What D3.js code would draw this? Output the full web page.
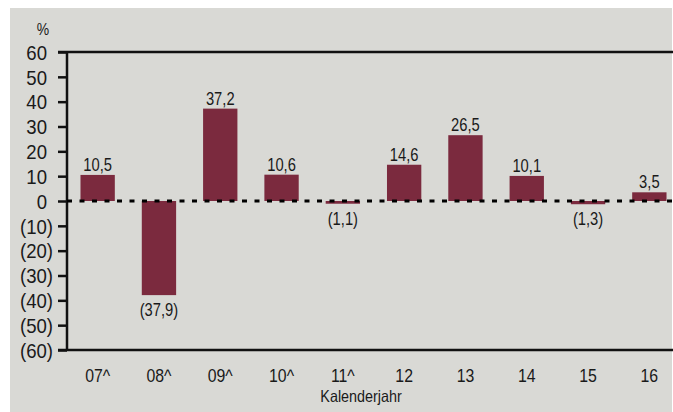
<!DOCTYPE html>
<html>
<head>
<meta charset="utf-8">
<script src="https://cdn.jsdelivr.net/npm/d3@7"></script>
<style>
  html, body { margin: 0; padding: 0; background: #fff; }
  svg { display: block; }
  text { font-family: "Liberation Sans", Arial, sans-serif; fill: #1a1a1a; }
</style>
</head>
<body>
<svg id="chart" width="673" height="412"></svg>
<script>
// ── Data ─────────────────────────────────────────────────────────────────────
const years  = ['07^', '08^', '09^', '10^', '11^', '12', '13', '14', '15', '16'];
const growth = [10.5, -37.9, 37.2, 10.6, -1.1, 14.6, 26.5, 10.1, -1.3, 3.5];
const yTicks = [60, 50, 40, 30, 20, 10, 0, -10, -20, -30, -40, -50, -60];

const W = 673, H = 412;
const BAR = '#7b2a3e', BG = '#d9d9d5';
const plotL = 67, plotR = 680, plotT = 52, plotB = 350;
const NARROW = 'scale(0.82,1)';   // no Arial Narrow here, squeeze Liberation Sans instead

const svg = d3.select('#chart');

// panel background
svg.append('rect')
  .attr('x', 10).attr('y', 8)
  .attr('width', W - 11).attr('height', H - 8)
  .attr('fill', BG);

// ── Scales ───────────────────────────────────────────────────────────────────
const x = d3.scaleBand()
  .domain(years)
  .range([plotL, plotR])
  .paddingInner(0.44)
  .paddingOuter(0.22);

const y = d3.scaleLinear()
  .domain([-60, 60])
  .range([plotB, plotT]);

// accounting style: 10 / (10), comma decimal
const fmtNum = v => {
  const s = Number.isInteger(v) ? String(Math.abs(v)) : Math.abs(v).toFixed(1).replace('.', ',');
  return v < 0 ? '(' + s + ')' : s;
};

// ── Y axis ───────────────────────────────────────────────────────────────────
const yAxis = d3.axisLeft(y)
  .tickValues(yTicks)
  .tickSize(9)
  .tickFormat(fmtNum);

const yG = svg.append('g')
  .attr('transform', `translate(${plotL},0)`)
  .call(yAxis);

yG.select('.domain').remove();
yG.selectAll('.tick line')
  .attr('stroke', '#111')
  .attr('stroke-width', 2.5);
yG.selectAll('.tick text')
  .attr('x', 0)
  .attr('transform', d => `translate(${d < 0 ? -14 : -20},0) scale(0.93,1)`)
  .attr('dy', '0.36em')
  .style('font-size', '20px')
  .attr('fill', '#1a1a1a');

// frame: left axis, top and bottom rules
svg.append('line')
  .attr('x1', plotL).attr('x2', plotL)
  .attr('y1', y(60)).attr('y2', y(-60))
  .attr('stroke', '#111').attr('stroke-width', 2.5);
[60, -60].forEach(v => {
  svg.append('line')
    .attr('x1', plotL - 9).attr('x2', W)
    .attr('y1', y(v)).attr('y2', y(v))
    .attr('stroke', '#111').attr('stroke-width', 2.5);
});

svg.append('text')
  .attr('transform', `translate(43,35) ${NARROW}`)
  .attr('text-anchor', 'middle')
  .style('font-size', '17px')
  .text('%');

// ── Bars ─────────────────────────────────────────────────────────────────────
const rows = years.map((k, i) => ({ year: k, v: growth[i] }));

svg.append('g').selectAll('rect')
  .data(rows)
  .enter().append('rect')
  .attr('x', d => x(d.year))
  .attr('width', x.bandwidth())
  .attr('y', d => y(Math.max(0, d.v)))
  .attr('height', d => Math.abs(y(d.v) - y(0)))
  .attr('fill', BAR);

// zero line (dotted)
svg.append('line')
  .attr('x1', plotL).attr('x2', W)
  .attr('y1', y(0)).attr('y2', y(0))
  .attr('stroke', '#000')
  .attr('stroke-width', 3)
  .attr('stroke-dasharray', '5,7.5');

// value labels
svg.append('g').selectAll('text')
  .data(rows)
  .enter().append('text')
  .attr('transform', d => {
    const cx = x(d.year) + x.bandwidth() / 2;
    const cy = d.v >= 0 ? y(d.v) - 4 : y(d.v) + 21;
    return `translate(${cx},${cy}) ${NARROW}`;
  })
  .attr('text-anchor', 'middle')
  .style('font-size', '18px')
  .text(d => fmtNum(d.v));

// ── X axis labels ────────────────────────────────────────────────────────────
const xAxis = d3.axisBottom(x).tickSize(0).tickPadding(0);
const xG = svg.append('g')
  .attr('transform', `translate(0,${plotB})`)
  .call(xAxis);
xG.select('.domain').remove();
xG.selectAll('.tick text')
  .attr('y', 32)
  .attr('dy', 0)
  .attr('transform', 'scale(0.88,1)')
  .style('font-size', '18px')
  .attr('fill', '#1a1a1a');

svg.append('text')
  .attr('transform', 'translate(361,402) scale(0.87,1)')
  .attr('text-anchor', 'middle')
  .style('font-size', '16.5px')
  .text('Kalenderjahr');
</script>
</body>
</html>
